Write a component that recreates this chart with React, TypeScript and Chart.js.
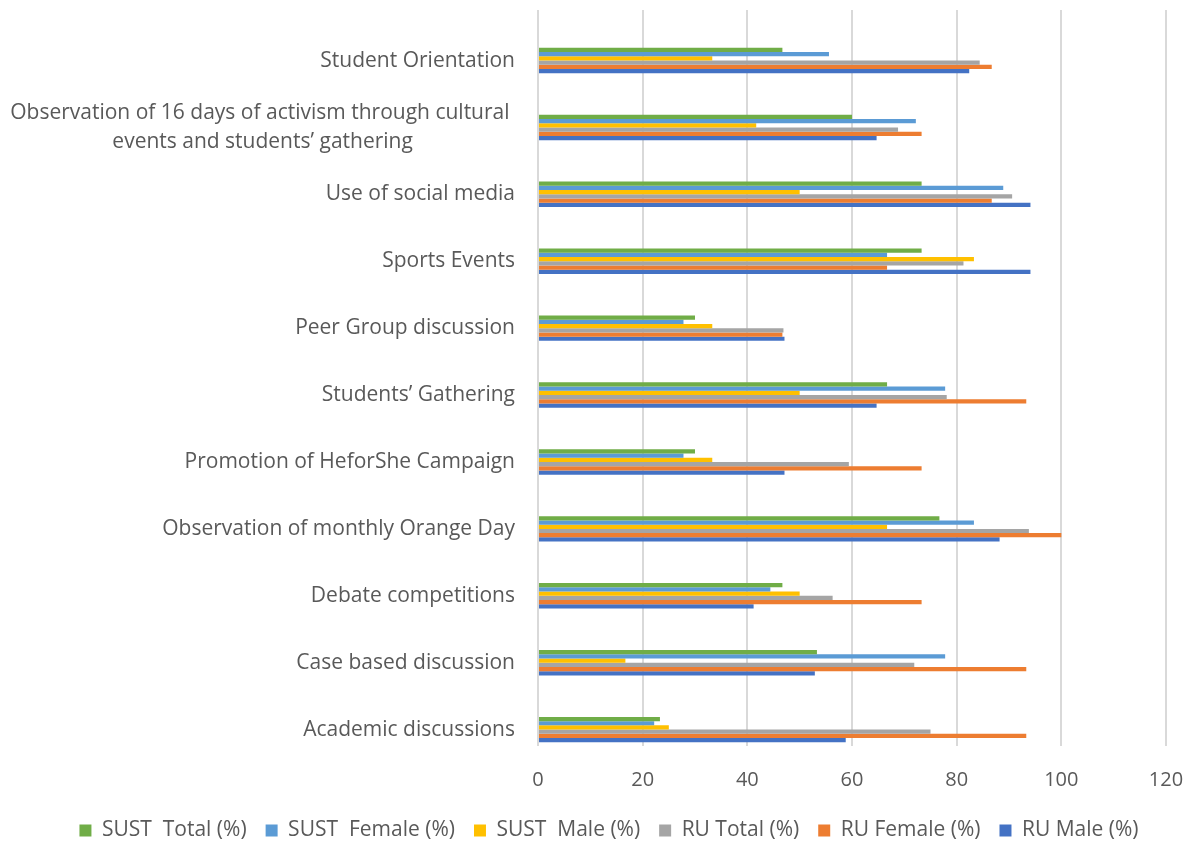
import React, { useEffect, useRef } from "react";
import { Chart, registerables } from "chart.js";

Chart.register(...registerables);

const categories = [
  "Student Orientation",
  "Observation of 16 days of activism through cultural \nevents and students’ gathering",
  "Use of social media",
  "Sports Events",
  "Peer Group discussion",
  "Students’ Gathering",
  "Promotion of HeforShe Campaign",
  "Observation of monthly Orange Day",
  "Debate competitions",
  "Case based discussion",
  "Academic discussions",
];

const sustTotal = [46.7, 60.0, 73.3, 73.3, 30.0, 66.7, 30.0, 76.7, 46.7, 53.3, 23.3];
const sustFemale = [55.6, 72.2, 88.9, 66.7, 27.8, 77.8, 27.8, 83.3, 44.4, 77.8, 22.2];
const sustMale = [33.3, 41.7, 50.0, 83.3, 33.3, 50.0, 33.3, 66.7, 50.0, 16.7, 25.0];
const ruTotal = [84.4, 68.8, 90.6, 81.3, 46.9, 78.1, 59.4, 93.8, 56.3, 71.9, 75.0];
const ruFemale = [86.7, 73.3, 86.7, 66.7, 46.7, 93.3, 73.3, 100, 73.3, 93.3, 93.3];
const ruMale = [82.4, 64.7, 94.1, 94.1, 47.1, 64.7, 47.1, 88.2, 41.2, 52.9, 58.8];

const seriesNames = [
  "SUST  Total (%)",
  "SUST  Female (%)",
  "SUST  Male (%)",
  "RU Total (%)",
  "RU Female (%)",
  "RU Male (%)",
];
const seriesValues = [sustTotal, sustFemale, sustMale, ruTotal, ruFemale, ruMale];
const seriesColors = ["#70AD47", "#5B9BD5", "#FFC000", "#A5A5A5", "#ED7D31", "#4472C4"];

const xTicks = { min: 0, max: 120, step: 20 };

const FONT = '"Open Sans", "DejaVu Sans", sans-serif';
const TEXT_COLOR = "#595959";

const yLabelPlugin = {
  id: "yCategoryLabels",
  afterDraw(chart: any) {
    const { ctx, chartArea } = chart;
    const yScale = chart.scales.y;
    ctx.save();
    ctx.font = `21px ${FONT}`;
    ctx.fillStyle = TEXT_COLOR;
    ctx.textBaseline = "middle";
    ctx.textAlign = "center";
    const right = chartArea.left - 23;
    const lh = 29;
    categories.forEach((lab, i) => {
      const lines = lab.split("\n");
      const cy = yScale.getPixelForValue(i);
      const w = Math.max(...lines.map((l) => ctx.measureText(l).width));
      const cx = right - w / 2;
      lines.forEach((l, k) => {
        ctx.fillText(l, cx, cy + (k - (lines.length - 1) / 2) * lh);
      });
    });
    ctx.restore();
  },
};

export default function App() {
  const canvasRef = useRef<HTMLCanvasElement | null>(null);

  useEffect(() => {
    document.body.style.margin = "0";
    const canvas = canvasRef.current;
    if (!canvas) return;
    Chart.defaults.font.family = FONT;
    const chart = new Chart(canvas, {
      type: "bar",
      data: {
        datasets: seriesNames.map((name, s) => ({
          label: name,
          data: seriesValues[s].map((v, i) => ({ x: v, y: i })),
          backgroundColor: seriesColors[s],
          borderWidth: 0,
          categoryPercentage: 0.38,
          barPercentage: 1.0,
        })),
      },
      options: {
        indexAxis: "y",
        animation: false,
        responsive: true,
        maintainAspectRatio: false,
        layout: { padding: { top: 10, right: 0, left: 21, bottom: -7 } },
        scales: {
          x: {
            type: "linear",
            position: "bottom",
            min: xTicks.min,
            max: xTicks.max,
            ticks: {
              stepSize: xTicks.step,
              color: TEXT_COLOR,
              font: { size: 20, family: FONT },
              padding: 10,
            },
            grid: {
              color: "#d9d9d9",
              lineWidth: 2,
              drawTicks: true,
              tickLength: 12,
              tickColor: "rgba(0,0,0,0)",
            },
            border: { display: false },
            afterFit: (scale: any) => {
              scale.height = 55;
            },
          },
          y: {
            type: "linear",
            reverse: true,
            offset: false,
            min: -0.755,
            max: 10.245,
            ticks: { display: false, stepSize: 1, includeBounds: false },
            grid: { display: false, drawTicks: false },
            border: { display: false },
            afterFit: (scale: any) => {
              scale.width = 517;
            },
          },
          yRight: {
            type: "linear",
            position: "right",
            display: true,
            min: 0,
            max: 1,
            ticks: { display: false },
            grid: { display: false, drawTicks: false },
            border: { display: false },
            afterFit: (scale: any) => {
              scale.width = 31;
            },
          },
        },
        plugins: {
          legend: {
            position: "bottom",
            labels: {
              boxWidth: 12,
              boxHeight: 12,
              padding: 19,
              color: TEXT_COLOR,
              font: { size: 21, family: FONT, lineHeight: 1 },
            },
          },
          tooltip: { enabled: false },
        },
      },
      plugins: [yLabelPlugin],
    });
    return () => chart.destroy();
  }, []);

  return (
    <div style={{ width: 1197, height: 844, position: "relative" }}>
      <canvas ref={canvasRef} />
    </div>
  );
}
